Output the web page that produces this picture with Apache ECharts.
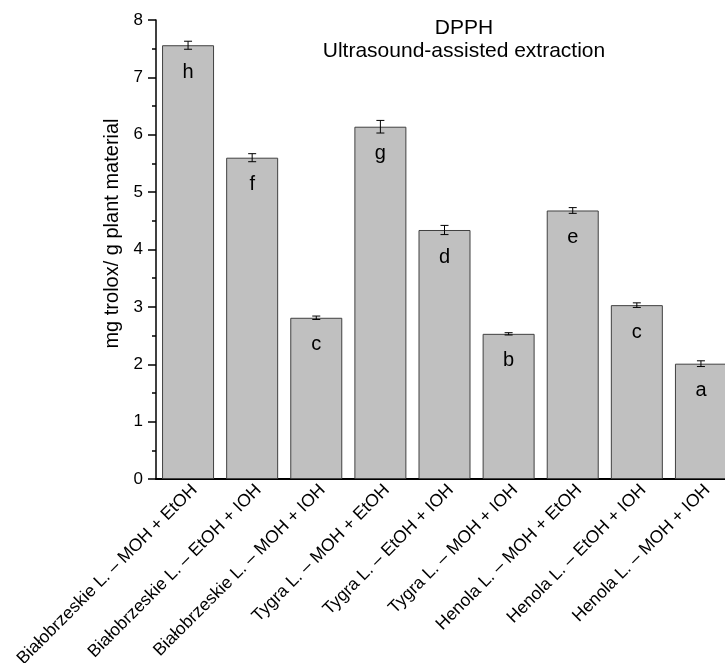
<!DOCTYPE html>
<html><head><meta charset="utf-8">
<script src="https://cdn.jsdelivr.net/npm/echarts@6/dist/echarts.min.js"></script>
<style>html,body{margin:0;padding:0;background:#fff;overflow:hidden}#c{width:745px;height:663px}</style>
</head><body><div id="c"></div>
<script>
var categories = ['Białobrzeskie L. – MOH + EtOH','Białobrzeskie L. – EtOH + IOH','Białobrzeskie L. – MOH + IOH','Tygra L. – MOH + EtOH','Tygra L. – EtOH + IOH','Tygra L. – MOH + IOH','Henola L. – MOH + EtOH','Henola L. – EtOH + IOH','Henola L. – MOH + IOH'];
var values = [7.56, 5.60, 2.81, 6.14, 4.34, 2.53, 4.68, 3.03, 2.01];
var errors = [0.07, 0.07, 0.03, 0.11, 0.08, 0.02, 0.05, 0.04, 0.05];
var letters = ['h','f','c','g','d','b','e','c','a'];
var yTicks = [0,1,2,3,4,5,6,7,8];

var chart = echarts.init(document.getElementById('c'));
var font = 'Liberation Sans, Arial, sans-serif';
chart.setOption({
  animation: false,
  title: {
    text: 'DPPH\nUltrasound-assisted extraction',
    left: 459, top: 12, textAlign: 'center',
    textStyle: {fontFamily: font, fontWeight: 'normal', fontSize: 21, color: '#000', lineHeight: 23}
  },
  grid: {left: 156, top: 20, width: 577, height: 459, outerBoundsMode: 'none', containLabel: false},
  xAxis: {
    type: 'category', data: categories,
    axisLine: {lineStyle: {color: '#000', width: 2}},
    axisTick: {show: false},
    axisLabel: {rotate: 45, interval: 0, fontFamily: font, fontSize: 17.5, color: '#000', margin: 2, verticalAlign: 'top'}
  },
  yAxis: {
    type: 'value', min: 0, max: 8, interval: 1,
    name: 'mg trolox/ g plant material', nameLocation: 'middle', nameGap: 25,
    nameTextStyle: {fontFamily: font, fontSize: 20, color: '#000', padding: [0, 0, 0, 32]},
    axisLine: {show: true, lineStyle: {color: '#000', width: 1.5}},
    axisTick: {show: true, inside: false, length: 8, lineStyle: {color: '#000', width: 1.5}},
    minorTick: {show: true, splitNumber: 2, length: 4, lineStyle: {color: '#000', width: 1.5}},
    splitLine: {show: false},
    axisLabel: {fontFamily: font, fontSize: 17, color: '#000', margin: 13,
      formatter: function(v){ return yTicks.indexOf(v) >= 0 ? String(v) : ''; }}
  },
  series: [{
    type: 'bar', data: values, barWidth: 52,
    itemStyle: {color: '#c0c0c0', borderColor: '#404040', borderWidth: 1},
    label: {show: true, position: 'insideTop', distance: 17,
      formatter: function(p){ return letters[p.dataIndex]; },
      fontFamily: font, fontSize: 20, color: '#000'}
  }, {
    type: 'custom',
    data: values.map(function(v,i){ return [i, v - errors[i], v + errors[i]]; }),
    renderItem: function(params, api){
      var lo = api.coord([api.value(0), api.value(1)]);
      var hi = api.coord([api.value(0), api.value(2)]);
      var w = 4;
      var s = {stroke: '#000', lineWidth: 1};
      return {type: 'group', children: [
        {type: 'line', shape: {x1: lo[0], y1: lo[1], x2: hi[0], y2: hi[1]}, style: s},
        {type: 'line', shape: {x1: lo[0]-w, y1: lo[1], x2: lo[0]+w, y2: lo[1]}, style: s},
        {type: 'line', shape: {x1: hi[0]-w, y1: hi[1], x2: hi[0]+w, y2: hi[1]}, style: s}
      ]};
    },
    z: 5
  }]
});
</script></body></html>
